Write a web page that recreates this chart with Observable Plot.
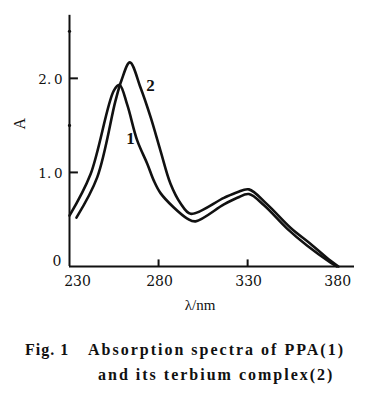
<!DOCTYPE html>
<html>
<head>
<meta charset="utf-8">
<script src="https://cdn.jsdelivr.net/npm/d3@7"></script>
<script src="https://cdn.jsdelivr.net/npm/@observablehq/plot@0.6"></script>
<style>
  body { margin: 0; background: #fff; }
  #cap { font-family: "Liberation Serif", "DejaVu Serif", serif; font-weight: bold; font-size: 16px; line-height: 25px; color: #111; margin-top: 15px; letter-spacing: 2px; white-space: nowrap; }
  #cap .l1 { padding-left: 25px; }
  #cap .fig { display: inline-block; width: 63px; letter-spacing: 1px; }
  #cap .l2 { padding-left: 98px; }
</style>
</head>
<body>
<div id="chart"></div>
<div id="cap"><div class="l1"><span class="fig">Fig. 1</span>Absorption spectra of PPA(1)</div><div class="l2">and its terbium complex(2)</div></div>
<script>
// Curve 1: PPA
const wl1 = [230, 241.8, 254.9, 258.1, 262.4, 268, 273.7, 277.4, 281.1, 288.4, 296.1, 300.8, 316.7, 324.2, 330.7, 339.2, 352.3, 363.5, 376.6, 380];
const abs1 = [0.54, 0.98, 1.87, 1.93, 1.72, 1.34, 1.09, 0.91, 0.78, 0.63, 0.51, 0.48, 0.66, 0.73, 0.77, 0.65, 0.40, 0.22, 0.04, 0];
// Curve 2: terbium complex
const wl2 = [233.9, 245.6, 255.8, 259.2, 263.9, 269.9, 275.5, 281.1, 286.7, 292.4, 298, 316.7, 324.2, 330.7, 341, 354.2, 365.4, 376.6, 381];
const abs2 = [0.52, 0.95, 1.76, 1.98, 2.17, 1.90, 1.59, 1.23, 0.88, 0.67, 0.56, 0.73, 0.79, 0.82, 0.66, 0.41, 0.24, 0.06, 0];
const xTicks = [230, 280, 330, 380];
const xInnerTicks = [280, 330];
const yTicks = [1, 2];
const yTickLabels = ["1.\u20090", "2.\u20090"];
const yMinor = [1.5, 2.5];
const curveLabels = ["1", "2"];
const labelX = [264.3, 275.5];
const labelY = [1.36, 1.92];

const s1 = wl1.map((x, i) => ({x, y: abs1[i]}));
const s2 = wl2.map((x, i) => ({x, y: abs2[i]}));
const labs = curveLabels.map((t, i) => ({t, x: labelX[i], y: labelY[i]}));

const serif = "'DejaVu Serif', 'Liberation Serif', serif";
const chart = Plot.plot({
  width: 389,
  height: 322,
  marginLeft: 69,
  marginRight: 35,
  marginTop: 12,
  marginBottom: 56,
  style: {fontFamily: serif, fontSize: "14px", color: "#111", background: "#fff"},
  x: {domain: [230, 390]},
  y: {domain: [0, 2.7]},
  marks: [
    Plot.axisX(xTicks.slice(0, 1), {tickSize: 0, tickPadding: 10, dx: 8, tickFormat: d => String(d), label: null, fontSize: 14}),
    Plot.axisX(xTicks.slice(1), {tickSize: 0, tickPadding: 10, dx: 1, tickFormat: d => String(d), label: null, fontSize: 14}),
    Plot.axisY([0], {tickSize: 0, tickPadding: 8, dy: -5, tickFormat: () => "0", label: null, fontSize: 14}),
    Plot.axisY(yTicks, {tickSize: 0, tickPadding: 7, dy: 1, tickFormat: (d, i) => yTickLabels[i], label: null, fontSize: 13.5}),
    Plot.ruleY([0], {x1: 230, x2: 390, stroke: "#111", strokeWidth: 2.2}),
    Plot.ruleX([230], {y1: 0, y2: 2.67, stroke: "#111", strokeWidth: 2}),
    Plot.ruleY(yTicks, {x1: 230, x2: 235, stroke: "#111", strokeWidth: 2}),
    Plot.ruleX(xInnerTicks, {y1: 0, y2: 0.07, stroke: "#111", strokeWidth: 2}),
    Plot.dot(yMinor, {x: () => 230, y: d => d, r: 1.6, fill: "#111", stroke: null}),
    Plot.line(s1, {x: "x", y: "y", curve: "catmull-rom", stroke: "#111", strokeWidth: 2.6}),
    Plot.line(s2, {x: "x", y: "y", curve: "catmull-rom", stroke: "#111", strokeWidth: 2.6}),
    Plot.text(labs, {x: "x", y: "y", text: "t", fontSize: 17, fontWeight: "bold", fontFamily: "'Liberation Serif', serif", fill: "#111"}),
    Plot.text(["λ/nm"], {frameAnchor: "bottom", dx: -12, dy: 43, fontSize: 15, fontFamily: "'Liberation Serif', serif", fill: "#111"}),
    Plot.text(["A"], {frameAnchor: "left", dx: -50, dy: -10, rotate: -90, fontSize: 16, fontFamily: "'Liberation Serif', serif", fill: "#111"})
  ]
});
document.getElementById("chart").appendChild(chart);
</script>
</body>
</html>
